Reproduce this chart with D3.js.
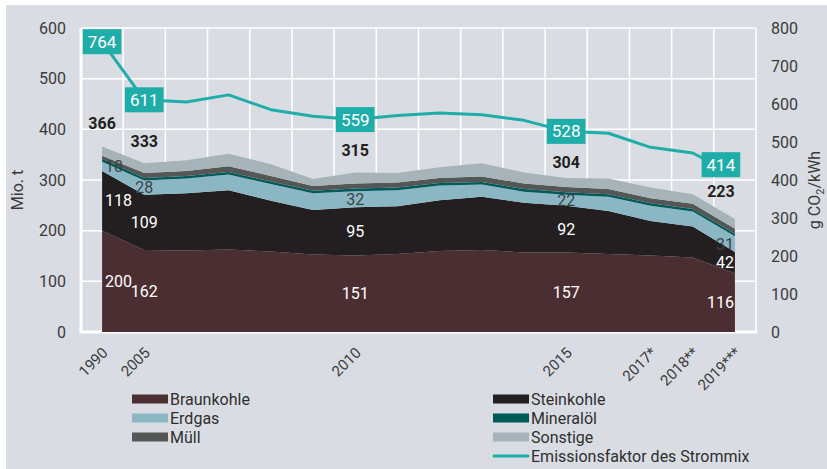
<!DOCTYPE html>
<html>
<head>
<meta charset="utf-8">
<script src="https://cdn.jsdelivr.net/npm/d3@7"></script>
<style>
  body { margin: 0; background: #fff; }
  svg { display: block; font-family: Roboto, "Noto Sans", sans-serif; }
</style>
</head>
<body>
<div id="viz"></div>
<script>
// years on the x axis
var years = ["1990", "2005", "2006", "2007", "2008", "2009", "2010", "2011", "2012",
             "2013", "2014", "2015", "2016", "2017*", "2018**", "2019***"];

// Mio. t CO2 by fuel
var braunkohle = [200, 162, 161, 163, 159, 153, 151, 154, 160, 162, 157, 157, 154, 151, 147, 116];
var steinkohle = [118, 109, 113, 117, 100, 88, 95, 94, 100, 105, 98, 92, 85, 68, 61, 42];
var erdgas     = [18, 28, 29, 31, 33, 33, 32, 32, 29, 24, 22, 22, 28, 30, 30, 31];
var mineraloel = [6, 5, 5, 5, 5, 5, 5, 5, 5, 5, 5, 5, 5, 5, 5, 5];
var muell      = [6, 10, 10, 11, 11, 9, 10, 10, 10, 11, 11, 10, 10, 10, 10, 10];
var sonstige   = [18, 19, 21, 25, 23, 14, 22, 19, 21, 26, 22, 18, 21, 21, 19, 19];
var totals     = [366, 333, 339, 352, 331, 302, 315, 314, 325, 333, 315, 304, 303, 285, 272, 223];

// g CO2/kWh
var emission = [764, 611, 605, 624, 585, 568, 559, 570, 576, 572, 557, 528, 523, 486, 471, 414];

var leftTicks = [0, 100, 200, 300, 400, 500, 600];
var rightTicks = [0, 100, 200, 300, 400, 500, 600, 700, 800];

// which years get value labels / tick labels
var labelled = [0, 1, 6, 11, 15];
var tickYears = [0, 1, 6, 11, 13, 14, 15];

var series = [
    {key: "braunkohle", name: "Braunkohle", values: braunkohle, color: "#4b2e31", text: "#ffffff", label: true},
    {key: "steinkohle", name: "Steinkohle", values: steinkohle, color: "#231f20", text: "#ffffff", label: true},
    {key: "erdgas", name: "Erdgas", values: erdgas, color: "#8bb7c5", text: "#3c4347", label: true},
    {key: "mineraloel", name: "Mineralöl", values: mineraloel, color: "#005a5a", label: false},
    {key: "muell", name: "Müll", values: muell, color: "#535755", label: false},
    {key: "sonstige", name: "Sonstige", values: sonstige, color: "#a6b3b9", label: false}
];

var width = 827,
    height = 469;
var lineColor = "#1fadaa";

var svg = d3.select("#viz").append("svg")
    .attr("width", width)
    .attr("height", height);

// panel background
svg.append("rect")
    .attr("x", 6).attr("y", 5)
    .attr("width", width - 6).attr("height", height - 5)
    .attr("fill", "#d9dde3");

var x = d3.scaleBand().domain(years).range([81, 756]).padding(0);
var xc = function(i) { return x(years[i]) + x.bandwidth() / 2; };
var y = d3.scaleLinear().domain([0, 600]).range([332, 28]);
var y2 = d3.scaleLinear().domain([0, 800]).range([332, 28]);

// grid
var grid = svg.append("g");
grid.selectAll("line.v")
    .data(years.map(function(d) { return x(d); }).concat([756]))
    .enter().append("line")
    .attr("x1", function(d) { return d; })
    .attr("x2", function(d) { return d; })
    .attr("y1", y(600)).attr("y2", y(0))
    .attr("stroke", "#fff").attr("stroke-width", 1.5);
grid.selectAll("line.h")
    .data(leftTicks.slice(1))
    .enter().append("line")
    .attr("x1", 81).attr("x2", 756)
    .attr("y1", function(d) { return y(d); })
    .attr("y2", function(d) { return y(d); })
    .attr("stroke", "#fff").attr("stroke-width", 1.5);
grid.append("line")
    .attr("x1", 81).attr("x2", 81).attr("y1", y(600)).attr("y2", y(0) + 1.5)
    .attr("stroke", "#fff").attr("stroke-width", 3);
grid.append("line")
    .attr("x1", 81).attr("x2", 757).attr("y1", y(0)).attr("y2", y(0))
    .attr("stroke", "#fff").attr("stroke-width", 3);

// stacked areas
var table = years.map(function(yr, i) {
    var row = {year: yr, i: i};
    series.forEach(function(s) { row[s.key] = s.values[i]; });
    return row;
});
var stack = d3.stack().keys(series.map(function(s) { return s.key; }));
var layers = stack(table);

var area = d3.area()
    .x(function(d) { return xc(d.data.i); })
    .y0(function(d) { return y(d[0]); })
    .y1(function(d) { return y(d[1]); });

svg.append("g").selectAll("path")
    .data(layers)
    .enter().append("path")
    .attr("d", area)
    .attr("fill", function(d, i) { return series[i].color; });

// labels inside the layers
layers.forEach(function(layer, k) {
    var s = series[k];
    if (!s.label) return;
    labelled.forEach(function(i) {
        var d = layer[i];
        var anchor = "middle", px = xc(i);
        if (i == 0) { anchor = "start"; px = xc(i) + 3; }
        if (i == years.length - 1) { anchor = "end"; px = xc(i) - 1; }
        svg.append("text")
            .attr("x", px)
            .attr("y", y((d[0] + d[1]) / 2))
            .attr("dy", "0.35em")
            .attr("text-anchor", anchor)
            .attr("fill", s.text)
            .style("font-size", "16px")
            .text(s.values[i]);
    });
});

// totals above the stack
var totalShift = {0: [0, -23], 1: [0, -22], 6: [0, -22], 11: [0, -16], 15: [-14, -28]};
labelled.forEach(function(i) {
    svg.append("text")
        .attr("x", xc(i) + totalShift[i][0])
        .attr("y", y(totals[i]) + totalShift[i][1])
        .attr("dy", "0.35em")
        .attr("text-anchor", "middle")
        .attr("fill", "#231f20")
        .style("font-size", "16px")
        .style("font-weight", "bold")
        .text(totals[i]);
});

// emission factor line
var line = d3.line()
    .x(function(d, i) { return xc(i); })
    .y(function(d) { return y2(d); });
svg.append("path")
    .datum(emission)
    .attr("d", line)
    .attr("fill", "none")
    .attr("stroke", lineColor)
    .attr("stroke-width", 3)
    .attr("stroke-linejoin", "round");

var boxShift = {0: [0, 0], 1: [0, 0], 6: [0, 0], 11: [0, 0], 15: [-14, -10]};
labelled.forEach(function(i) {
    var cx = xc(i) + boxShift[i][0],
        cy = y2(emission[i]) + boxShift[i][1];
    var g = svg.append("g");
    var t = g.append("text")
        .attr("x", cx).attr("y", cy)
        .attr("dy", "0.36em")
        .attr("text-anchor", "middle")
        .attr("fill", "#fff")
        .style("font-size", "17px")
        .text(emission[i]);
    var w = t.node().getComputedTextLength() + 10;
    g.insert("rect", "text")
        .attr("x", cx - w / 2).attr("y", cy - 12.5)
        .attr("width", w).attr("height", 25)
        .attr("fill", lineColor);
});

// axes
var axL = svg.append("g")
    .attr("transform", "translate(66,0)")
    .call(d3.axisLeft(y).tickValues(leftTicks).tickSize(0).tickPadding(0));
var axR = svg.append("g")
    .attr("transform", "translate(771,0)")
    .call(d3.axisRight(y2).tickValues(rightTicks).tickSize(0).tickPadding(0));
[axL, axR].forEach(function(ax) {
    ax.select(".domain").remove();
    ax.selectAll("text")
        .attr("fill", "#3a3a3a")
        .style("font-size", "16px")
        .style("font-family", "Roboto, sans-serif");
});

svg.append("g").selectAll("text")
    .data(tickYears)
    .enter().append("text")
    .attr("transform", function(i) { return "translate(" + (xc(i) + 3) + ",350) rotate(-45)"; })
    .attr("text-anchor", "end")
    .attr("dy", "0.35em")
    .attr("fill", "#3a3a3a")
    .style("font-size", "15px")
    .text(function(i) { return years[i]; });

// axis titles
svg.append("text")
    .attr("transform", "translate(17,190) rotate(-90)")
    .attr("text-anchor", "middle")
    .attr("dy", "0.35em")
    .attr("fill", "#3a3a3a")
    .style("font-size", "16px")
    .text("Mio. t");
var rt = svg.append("text")
    .attr("transform", "translate(814,190) rotate(-90)")
    .attr("text-anchor", "middle")
    .attr("dy", "0.35em")
    .attr("fill", "#3a3a3a")
    .style("font-size", "16px");
rt.append("tspan").text("g CO");
rt.append("tspan").attr("dy", "4").style("font-size", "11px").text("2");
rt.append("tspan").attr("dy", "-4").text("/kWh");

// legend
var legendItems = [
    {name: "Braunkohle", color: series[0].color, col: 0, row: 0},
    {name: "Erdgas", color: series[2].color, col: 0, row: 1},
    {name: "Müll", color: series[4].color, col: 0, row: 2},
    {name: "Steinkohle", color: series[1].color, col: 1, row: 0},
    {name: "Mineralöl", color: series[3].color, col: 1, row: 1},
    {name: "Sonstige", color: series[5].color, col: 1, row: 2},
    {name: "Emissionsfaktor des Strommix", color: lineColor, col: 1, row: 3, line: true}
];
var legend = svg.append("g");
legendItems.forEach(function(d) {
    var lx = d.col == 0 ? 132 : 493,
        ly = 399 + d.row * 19;
    if (d.line) {
        legend.append("line")
            .attr("x1", lx + 1).attr("x2", lx + 35)
            .attr("y1", ly).attr("y2", ly)
            .attr("stroke", d.color).attr("stroke-width", 3)
            .attr("stroke-linecap", "round");
    } else {
        legend.append("rect")
            .attr("x", lx).attr("y", ly - 4.5)
            .attr("width", 36).attr("height", 9)
            .attr("fill", d.color);
    }
    legend.append("text")
        .attr("x", lx + 38).attr("y", ly)
        .attr("dy", "0.35em")
        .attr("fill", "#2f2f2f")
        .style("font-size", "16px")
        .text(d.name);
});
</script>
</body>
</html>
